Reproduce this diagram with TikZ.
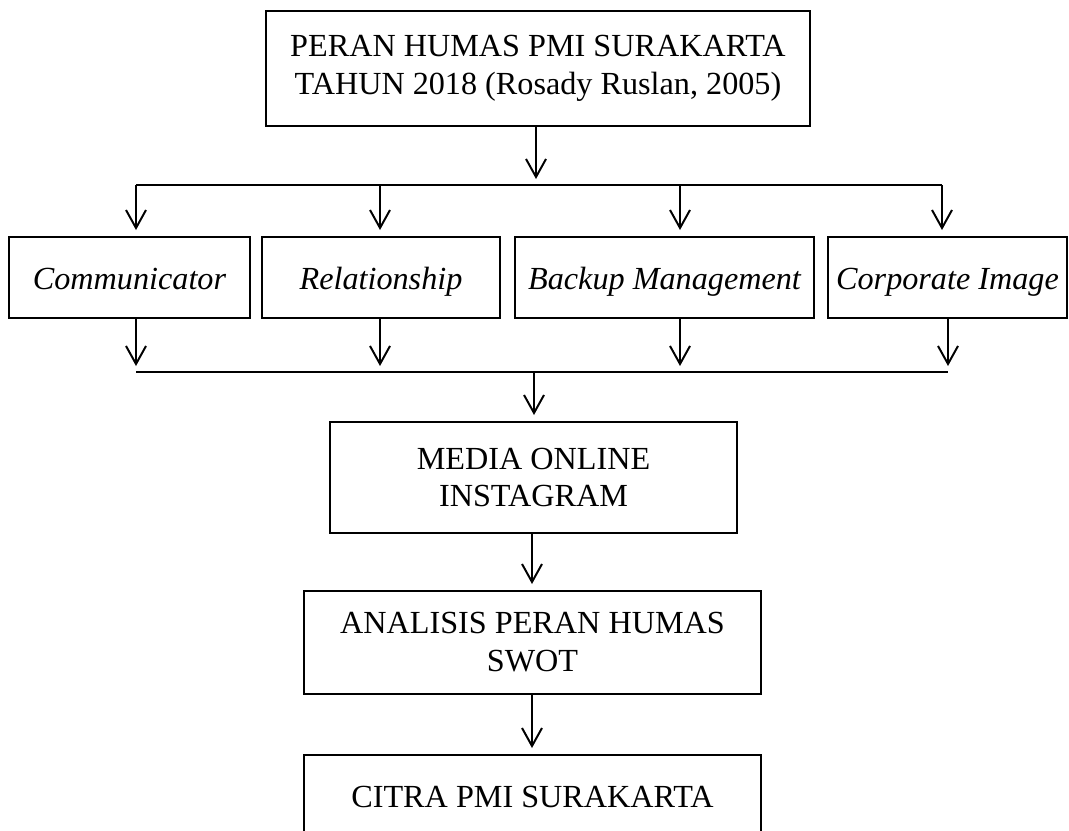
\documentclass[tikz,border=0pt]{standalone}
\usepackage{fontspec}
\setmainfont{Liberation Serif}
\usepackage{tikz}
\usetikzlibrary{calc}
\usetikzlibrary{positioning, arrows.meta}

\tikzset{
    box/.style={draw, rectangle, line width=1.4pt, align=center, inner sep=0pt,
                font=\fontsize{22.9pt}{27pt}\selectfont},
    role/.style={box, font=\fontsize{22.9pt}{27pt}\selectfont\itshape, minimum height=2.025cm,
                 text height=0.7cm, text depth=0.08cm},
    arrow/.style={->, line width=1.4pt, shorten >=1.5mm},
    bus/.style={line width=1.1pt}
}

\begin{document}
\begin{tikzpicture}[x=0.025cm, y=-0.025cm, >={Straight Barb[length=4.5mm,width=5mm]}] % Arrow tip style
                    \useasboundingbox (0,0) rectangle (1069,830);

                    % Top box
                    \node[box, minimum width=13.6cm, minimum height=2.875cm] (peran) at (538,68.5) {PERAN HUMAS PMI SURAKARTA\\TAHUN 2018 (Rosady Ruslan, 2005)};

                    % The four roles
                    \node[role, minimum width=6.025cm] (comm) at (129.5,277.5) {Communicator};
                    \node[role, minimum width=5.95cm] (rel) at (381,277.5) {Relationship};
                    \node[role, minimum width=7.475cm] (backup) at (664.5,277.5) {Backup Management};
                    \node[role, minimum width=5.975cm] (corp) at (947.5,277.5) {Corporate Image};

                    % Lower boxes
                    \node[box, minimum width=10.175cm, minimum height=2.775cm] (media) at (533.5,477.5) {MEDIA ONLINE\\INSTAGRAM};
                    \node[box, minimum width=11.425cm, minimum height=2.575cm] (swot) at (532.5,642.5) {ANALISIS PERAN HUMAS\\SWOT};
                    \node[box, minimum width=11.425cm, minimum height=2.1cm] (citra) at (532.5,797) {CITRA PMI SURAKARTA};

                    % Branch points on the two lines
                    \coordinate (split) at (536,185);
                    \coordinate (a1) at (136,185);
                    \coordinate (a2) at (380,185);
                    \coordinate (a3) at (680,185);
                    \coordinate (a4) at (942,185);
                    \coordinate (b1) at (136,372);
                    \coordinate (b2) at (380,372);
                    \coordinate (b3) at (680,372);
                    \coordinate (b4) at (948,372);
                    \coordinate (join) at (534,372);
                    \coordinate (col) at (532,0);

                    % Top box to the roles
                    \draw[arrow] (split |- peran.south) -- (split);
                    \draw[bus] (a1) -- (a4);
                    \draw[arrow] (a1) -- (a1 |- comm.north);
                    \draw[arrow] (a2) -- (a2 |- rel.north);
                    \draw[arrow] (a3) -- (a3 |- backup.north);
                    \draw[arrow] (a4) -- (a4 |- corp.north);

                    % Roles down to the second line
                    \draw[arrow] (b1 |- comm.south) -- (b1);
                    \draw[arrow] (b2 |- rel.south) -- (b2);
                    \draw[arrow] (b3 |- backup.south) -- (b3);
                    \draw[arrow] (b4 |- corp.south) -- (b4);
                    \draw[bus] (b1) -- (b4);

                    % Down the column
                    \draw[arrow] (join) -- (join |- media.north);
                    \draw[arrow] (col |- media.south) -- (col |- swot.north);
                    \draw[arrow] (col |- swot.south) -- (col |- citra.north);

                \end{tikzpicture}
\end{document}
